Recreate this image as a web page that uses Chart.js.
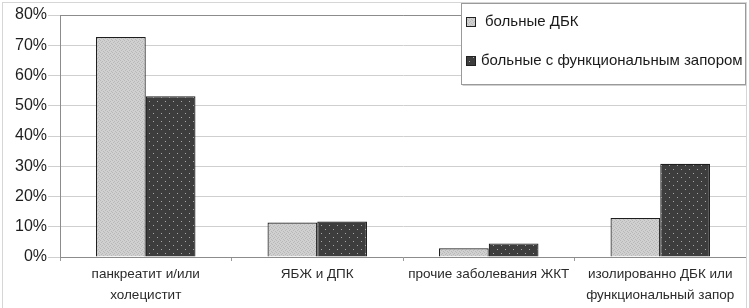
<!DOCTYPE html>
<html>
<head>
<meta charset="utf-8">
<script src="https://cdn.jsdelivr.net/npm/chart.js@4/dist/chart.umd.min.js"></script>
<style>
  html, body { margin: 0; padding: 0; background: #fff; }
  #wrap { width: 749px; height: 308px; position: relative; }
</style>
</head>
<body>
<div id="wrap"><canvas id="chart"></canvas></div>
<script>
// data
const categories = [
  ['панкреатит и/или', 'холецистит'],
  'ЯБЖ и ДПК',
  'прочие заболевания ЖКТ',
  ['изолированно ДБК или', 'функциональный запор']
];
const seriesNames = ['больные ДБК', 'больные с функциональным запором'];
const dbkValues = [72.7, 11.4, 2.9, 12.9];
const constipationValues = [53.1, 11.7, 4.5, 30.8];
const yTicks = [0, 10, 20, 30, 40, 50, 60, 70, 80];

// hatch-like fills, like the scanned print
function makeLightPattern() {
  const c = document.createElement('canvas');
  c.width = 4; c.height = 4;
  const g = c.getContext('2d');
  g.fillStyle = '#d0d0d0';
  g.fillRect(0, 0, 4, 4);
  g.fillStyle = '#b8b8b8';
  g.fillRect(0, 0, 1, 1);
  g.fillRect(2, 1, 1, 1);
  g.fillRect(1, 2, 1, 1);
  g.fillRect(3, 3, 1, 1);
  return g.createPattern(c, 'repeat');
}

function makeDarkPattern() {
  const c = document.createElement('canvas');
  c.width = 8; c.height = 8;
  const g = c.getContext('2d');
  g.fillStyle = '#3d3d3d';
  g.fillRect(0, 0, 8, 8);
  g.fillStyle = '#a8a8a8';
  g.fillRect(1, 1, 1, 1);
  g.fillRect(5, 5, 1, 1);
  return g.createPattern(c, 'repeat');
}

const lightFill = makeLightPattern();
const darkFill = makeDarkPattern();
const fills = [lightFill, darkFill];

// frame around the plot area and the boxed legend on top
const framePlugin = {
  id: 'frame',
  beforeDatasetsDraw(chart) {
    const { ctx, chartArea: a } = chart;
    ctx.save();
    ctx.strokeStyle = '#8c8c8c';
    ctx.lineWidth = 1;
    ctx.beginPath();
    ctx.moveTo(a.left, a.top + 0.5);
    ctx.lineTo(a.right + 0.5, a.top + 0.5);
    ctx.lineTo(a.right + 0.5, a.bottom);
    ctx.stroke();
    ctx.restore();
  },
  afterDraw(chart) {
    const { ctx } = chart;
    ctx.save();
    // outer picture frame
    ctx.strokeStyle = '#d6d6d6';
    ctx.strokeRect(2.5, 2.5, 744, 310);

    // legend box
    const bx = 461.5, by = 3.5, bw = 284, bh = 81;
    ctx.fillStyle = '#fff';
    ctx.fillRect(bx, by, bw, bh);
    ctx.strokeStyle = '#9a9a9a';
    ctx.strokeRect(bx, by, bw, bh);
    ctx.strokeStyle = '#d0d0d0';
    ctx.beginPath();
    ctx.moveTo(bx + 1, by + bh + 1);
    ctx.lineTo(bx + bw + 1, by + bh + 1);
    ctx.stroke();

    const rows = [22, 61];
    ctx.font = '15px "Liberation Sans", Arial, sans-serif';
    ctx.textBaseline = 'middle';
    seriesNames.forEach((name, i) => {
      const y = rows[i];
      ctx.fillStyle = fills[i];
      ctx.fillRect(467, y - 4, 8, 8);
      ctx.strokeStyle = '#222';
      ctx.strokeRect(466.5, y - 4.5, 9, 9);
      ctx.fillStyle = '#1a1a1a';
      ctx.fillText(name, i === 0 ? 485 : 481, y);
    });
    ctx.restore();
  }
};

new Chart(document.getElementById('chart'), {
  type: 'bar',
  data: {
    labels: categories,
    datasets: [
      {
        label: seriesNames[0],
        data: dbkValues,
        backgroundColor: lightFill,
        borderColor: '#1e1e1e',
        borderWidth: 1.2
      },
      {
        label: seriesNames[1],
        data: constipationValues,
        backgroundColor: darkFill,
        borderColor: '#1e1e1e',
        borderWidth: 1.2
      }
    ]
  },
  options: {
    responsive: true,
    maintainAspectRatio: false,
    animation: false,
    layout: { padding: { top: 15, right: 3, left: 0, bottom: 0 } },
    datasets: {
      bar: { categoryPercentage: 0.58, barPercentage: 1.0 }
    },
    plugins: {
      legend: { display: false },
      tooltip: { enabled: false }
    },
    scales: {
      x: {
        grid: {
          offset: true,
          drawOnChartArea: false,
          color: '#9a9a9a',
          tickLength: 4
        },
        border: { color: '#8c8c8c' },
        ticks: {
          color: '#2a2a2a',
          font: { family: '"Liberation Sans", Arial, sans-serif', size: 13.5, lineHeight: 1.55 },
          padding: 3,
          maxRotation: 0
        },
        afterFit(scale) { scale.height = 51; }
      },
      y: {
        min: 0,
        max: 80,
        afterBuildTicks(scale) {
          scale.ticks = yTicks.map(v => ({ value: v }));
        },
        grid: {
          color: '#cfcfcf',
          tickLength: 12,
          tickColor: '#cfcfcf'
        },
        border: { color: '#8c8c8c' },
        ticks: {
          color: '#1e1e1e',
          font: { family: '"Liberation Sans", Arial, sans-serif', size: 16 },
          padding: 1,
          callback: v => v + '%'
        },
        afterFit(scale) { scale.width = 60; }
      }
    }
  },
  plugins: [framePlugin]
});
</script>
</body>
</html>
